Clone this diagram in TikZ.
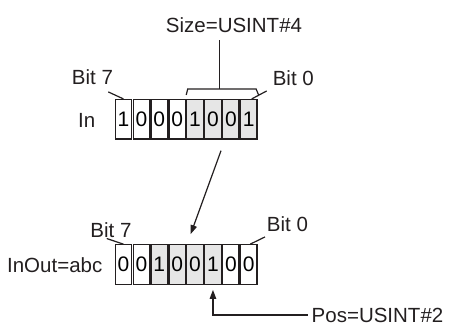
\documentclass[tikz,border=0pt]{standalone}
\usepackage{fontspec}
\setmainfont{Liberation Sans}
\usepackage{xcolor}
\usetikzlibrary{arrows.meta,positioning,calc}
\definecolor{bitink}{HTML}{231F20}
\definecolor{bitshade}{HTML}{E6E6E6}

\begin{document}
\begin{tikzpicture}[x=1bp,y=-1bp,
  cell/.style={draw=bitink,line width=1.25bp,minimum width=16.4bp,
    minimum height=39.5bp,inner sep=0pt,font=\fontsize{21bp}{24bp}\selectfont},
  lbl/.style={inner sep=0pt,text=bitink,font=\fontsize{20.5bp}{24bp}\selectfont},
  wire/.style={draw=bitink,line width=1.2bp},
  tip/.style={-{Triangle[length=9bp,width=6.5bp]}}
]
  \useasboundingbox (0,0) rectangle (449,325);

  % source byte
  \foreach \b/\f [count=\i from 0] in {1/white,0/white,0/white,0/white,
      1/bitshade,0/bitshade,0/bitshade,1/bitshade}
    \node[cell,fill=\f] (in\i) at (123.45+17.9*\i,119.3) {\b};

  % destination byte
  \foreach \b/\f [count=\i from 0] in {0/white,0/white,1/bitshade,0/bitshade,
      0/bitshade,1/bitshade,0/white,0/white}
    \node[cell,fill=\f] (io\i) at (123.45+17.9*\i,264.5) {\b};

  % labels
  \node[lbl,anchor=east] (inlbl) at (95.5,120.5) {In};
  \node[lbl,anchor=east] (iolbl) at (102.5,265.5) {InOut=abc};
  \node[lbl] (size) at (234,24.7) {Size=USINT\#4};
  \node[lbl,anchor=west] (pos) at (311.5,315) {Pos=USINT\#2};
  \node[lbl] (inhi) at (92.5,77.5) {Bit 7};
  \node[lbl] (inlo) at (293.3,78) {Bit 0};
  \node[lbl] (iohi) at (111,229.7) {Bit 7};
  \node[lbl] (iolo) at (287.5,223.7) {Bit 0};

  % bit leaders
  \draw[wire] ([shift={(15.8,6.7)}]inhi.south) -- (in0.north);
  \draw[wire] ([shift={(-26.6,5.2)}]inlo.south) -- ([xshift=3]in7.north);
  \draw[wire] ([shift={(-4.3,1.1)}]iohi.south) -- (io0.north);
  \draw[wire] ([shift={(-22.5,5.5)}]iolo.south) -- ([xshift=1.5]io7.north);

  % size bracket
  \coordinate (brk) at (219.3,89.3);
  \draw[wire] ([shift={(0,-4)}]in4.north west) -- ([shift={(1.5,-10)}]in4.north west)
    -- ([shift={(-1.5,-10)}]in7.north east) -- ([shift={(1,-4)}]in7.north east);
  \draw[wire] ([shift={(0,8)}]size.south -| brk) -- (brk);

  % copy arrow
  \draw[wire,tip] ([shift={(-0.9,11)}]$(in5.south)!.5!(in6.south)$)
    -- ([shift={(-4.4,-10)}]io4.north);

  % position arrow
  \draw[wire,tip] ([xshift=-4]pos.west) -| ([shift={(0,5)}]io5.south);
\end{tikzpicture}
\end{document}
